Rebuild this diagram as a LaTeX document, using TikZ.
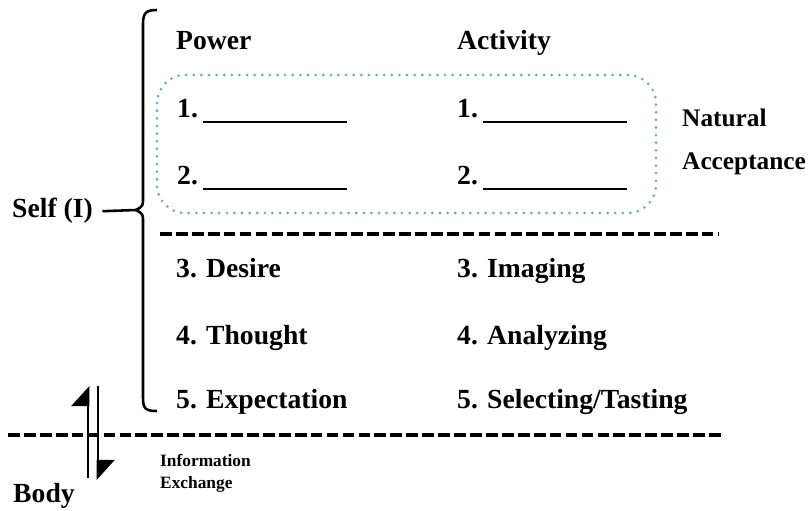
\documentclass[tikz,border=0pt]{standalone}
\usepackage{fontspec}
\setmainfont{Liberation Serif}
\usetikzlibrary{arrows.meta,positioning}
\definecolor{dotblue}{RGB}{100,178,196}
\tikzset{
  lbl/.style={anchor=base west,inner sep=0pt,font=\fontsize{23.6}{28}\selectfont\bfseries},
  side/.style={lbl,font=\fontsize{21.6}{26}\selectfont\bfseries},
  small/.style={lbl,font=\fontsize{14.8}{18}\selectfont\bfseries},
  blank/.style={line width=1.6pt},
  divider/.style={line width=2.6pt,dash pattern=on 10pt off 3.6pt},
  brace/.style={line width=2.2pt},
  harpoon/.style={line width=2.4pt,-{Triangle[left,length=0.56cm,width=1cm]}},
}

\begin{document}
\begin{tikzpicture}[x=0.03cm,y=-0.03cm]
\useasboundingbox (0,0) rectangle (809,511);

% column heads
\node (pow) at (176,50) [lbl] {Power};
\node (act) at (457,50) [lbl] {Activity};

% natural acceptance
\draw[dotblue,line width=2.6pt,line cap=round,dash pattern=on 0pt off 6.5pt,rounded corners=24pt] (157,75) rectangle (656,213);
\foreach \n/\y in {1/118,2/185} {
  \node (p\n) at (177,\y) [lbl] {\n.};
  \node (a\n) at (457,\y) [lbl] {\n.};
  \draw[blank] (203,\y+4) -- (347,\y+4);
  \draw[blank] (483,\y+4) -- (627,\y+4);
}
\node (nat) at (682,127) [side] {Natural};
\node (acc) at (682,170) [side] {Acceptance};

\coordinate (d1l) at (160,234);
\coordinate (d1r) at (718,234);
\draw[divider] (d1l) -- (d1r);

% rest of the powers and activities
\node (p3) at (176,278) [lbl] {3. Desire};
\node (a3) at (457,278) [lbl] {3. Imaging};
\node (p4) at (176,344) [lbl] {4. Thought};
\node (a4) at (457,344) [lbl] {4. Analyzing};
\node (p5) at (176,408) [lbl] {5. Expectation};
\node (a5) at (457,408) [lbl] {5. Selecting/Tasting};

% self and its brace
\node (self) at (12,218) [lbl] {Self (I)};
\coordinate (cusp) at (136,210);
\draw[brace] (157,10) .. controls (146,10) and (143,13) .. (143,24) -- (143,198)
  .. controls (143,206) .. (cusp) .. controls (143,214) .. (143,222) -- (143,398)
  .. controls (143,409) and (146,411) .. (157,411);
\draw[brace] ([xshift=8pt]self.east) -- (cusp);

% body
\coordinate (d2l) at (8,435);
\coordinate (d2r) at (722,435);
\draw[divider] (d2l) -- (d2r);
\node (body) at (13,502) [lbl] {Body};

\coordinate (upfoot) at (88,478);
\coordinate (uptip) at (88,386);
\coordinate (dntop) at (98,386);
\coordinate (dntip) at (98,480);
\draw[harpoon] (upfoot) -- (uptip);
\draw[harpoon] (dntop) -- (dntip);

\node (info) at (160,466) [small] {Information};
\node (exch) at (160,488) [small] {Exchange};
\end{tikzpicture}
\end{document}
